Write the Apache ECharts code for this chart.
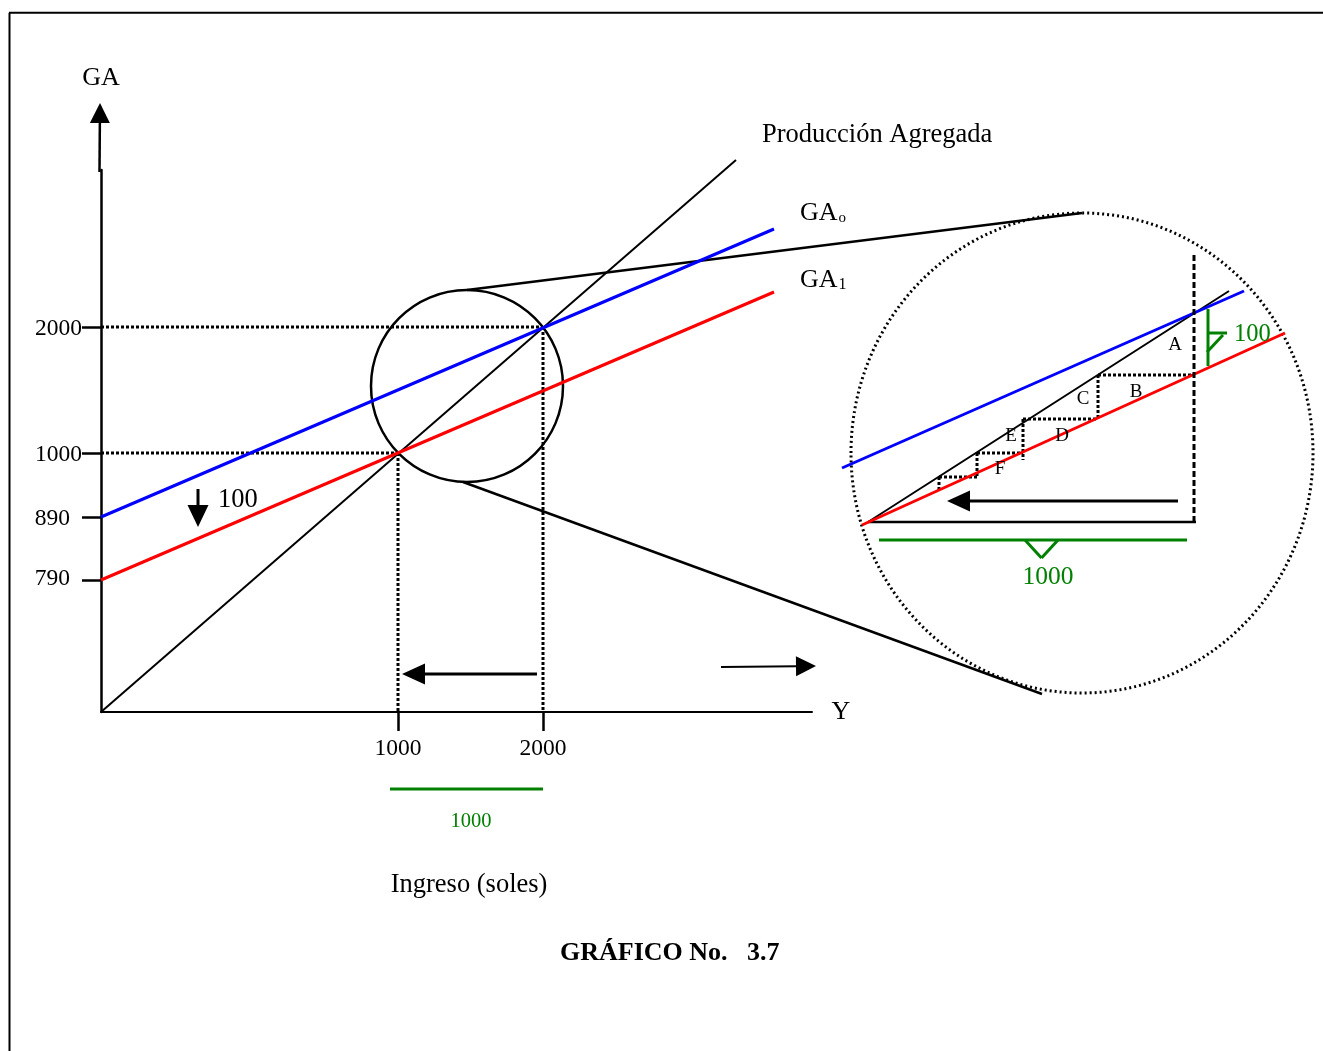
<!DOCTYPE html>
<html>
<head>
<meta charset="utf-8">
<script src="https://cdn.jsdelivr.net/npm/echarts@6/dist/echarts.min.js"></script>
<style>
  html, body { margin: 0; padding: 0; background: #fff; }
  #chart { width: 1323px; height: 1051px; }
</style>
</head>
<body>
<div id="chart"></div>
<script>
// Diagram units: the origin sits at the corner of the GA / Y axes.
// The axes are schematic, so each tick has its own position on the drawing.
const incomeTickPos = [297, 442];
const incomeTickLabels = ['1000', '2000'];
const spendTickPos = [385, 259, 195, 132];
const spendTickLabels = ['2000', '1000', '890', '790'];

// Aggregate production (45° line) and the two aggregate-spending lines
const produccionAgregada = [[0, 0], [635, 552]];
const ga0 = [[0, 195], [673, 483]];
const ga1 = [[0, 132], [673, 420]];

// Magnified view of the region between the two equilibria
const zoomProduccion = [[767, 190], [1128, 421]];
const zoomGa0 = [[741, 244], [1143, 421]];
const zoomGa1 = [[761, 187], [1184, 379]];

// Dotted guides from the equilibria to the axes
const guideLines = [
  [0, 385, 442, 385], [0, 259, 297, 259],
  [297, 259, 297, 0], [442, 385, 442, 0]
];
// Multiplier staircase between production and GA1 in the magnified view
const stepLines = [
  [997, 337, 1093, 337], [997, 337, 997, 293],
  [922, 293, 997, 293], [922, 293, 922, 252],
  [876, 259, 922, 259], [876, 259, 876, 235],
  [838, 235, 876, 235], [838, 235, 838, 220]
];
const zoomBase = [[767, 190, 1095, 190]];
const zoomDrop = [[1093, 457, 1093, 190]];
const connectors = [[366, 422, 981, 499], [362, 230, 941, 18]];
const frameLines = [[-92, 699.3, 1222, 699.3], [-91.5, 699.3, -91.5, -339]];
const greenMarks = [
  [289, -77, 442, -77],
  [778, 172, 1086, 172], [924, 172, 940.5, 154], [940.5, 154, 957, 172],
  [1107, 403, 1107, 346], [1107, 379, 1126, 379], [1106, 360, 1122, 377]
];

// Circles: centre x, centre y, radius x, radius y
const lens = [[366, 326, 96, 96]];
const zoomRing = [[981, 259, 231, 240]];

// Arrows: from (x, y) to tip (x, y)
const arrowPaths = [
  [-1.5, 540, -1, 609],
  [97, 223, 97, 185],
  [436, 38, 301, 38],
  [620, 45, 715, 46],
  [1077, 211, 846, 211]
];
const arrowLooks = [
  { head: 20, width: 20, shaft: 2.5 },
  { head: 22, width: 21, shaft: 3 },
  { head: 23, width: 21, shaft: 3 },
  { head: 20, width: 20, shaft: 2 },
  { head: 23, width: 21, shaft: 3 }
];

// Text placed on the drawing
const notes = [
  { at: [0, 634], text: 'GA', size: 26, align: 'center' },
  { at: [661, 577], text: 'Producción Agregada', size: 26.5, align: 'left' },
  { at: [699, 499], text: 'GA{o|o}', size: 26, align: 'left' },
  { at: [699, 432], text: 'GA{one|1}', size: 26, align: 'left' },
  { at: [740, 0], text: 'Y', size: 26, align: 'center' },
  { at: [117, 212], text: '100', size: 26.5, align: 'left' },
  { at: [370, -110], text: '1000', size: 20.5, align: 'center', color: '#008000' },
  { at: [289.7, -173], text: 'Ingreso (soles)', size: 26.5, align: 'left' },
  { at: [459, -241], text: 'GRÁFICO No.   3.7', size: 26, align: 'left', bold: true },
  { at: [1074, 367], text: 'A', size: 19, align: 'center' },
  { at: [1035, 320], text: 'B', size: 19, align: 'center' },
  { at: [982, 313], text: 'C', size: 19, align: 'center' },
  { at: [961, 276], text: 'D', size: 19, align: 'center' },
  { at: [910, 276], text: 'E', size: 19, align: 'center' },
  { at: [899, 243], text: 'F', size: 19, align: 'center' },
  { at: [947, 135], text: '1000', size: 25.5, align: 'center', color: '#008000' },
  { at: [1133, 377], text: '100', size: 24.5, align: 'left', color: '#008000' }
];

const SERIF = '"Liberation Serif", "Times New Roman", serif';
const BLACK = '#000000';
const GREEN = '#008000';

function segmentSeries(segs, stroke, width, dash, z) {
  return {
    type: 'custom', coordinateSystem: 'cartesian2d', xAxisIndex: 0, yAxisIndex: 0,
    silent: true, z: z, data: segs,
    renderItem(params, api) {
      const a = api.coord([api.value(0), api.value(1)]);
      const b = api.coord([api.value(2), api.value(3)]);
      return {
        type: 'line',
        shape: { x1: a[0], y1: a[1], x2: b[0], y2: b[1] },
        style: { stroke: stroke, lineWidth: width, lineDash: dash || null, fill: null }
      };
    }
  };
}

function curve(pts, color, width, z) {
  return {
    type: 'line', xAxisIndex: 0, yAxisIndex: 0, data: pts,
    symbol: 'none', showSymbol: false, silent: true, z: z,
    lineStyle: { color: color, width: width }
  };
}

function ringSeries(rings, width, dash, z) {
  return {
    type: 'custom', coordinateSystem: 'cartesian2d', xAxisIndex: 0, yAxisIndex: 0,
    silent: true, z: z, data: rings,
    renderItem(params, api) {
      const c = api.coord([api.value(0), api.value(1)]);
      const s = api.size([api.value(2), api.value(3)]);
      return {
        type: 'ellipse',
        shape: { cx: c[0], cy: c[1], rx: s[0], ry: s[1] },
        style: { fill: null, stroke: BLACK, lineWidth: width, lineDash: dash || null }
      };
    }
  };
}

const arrowSeries = {
  type: 'custom', coordinateSystem: 'cartesian2d', xAxisIndex: 0, yAxisIndex: 0,
  silent: true, z: 6, data: arrowPaths,
  renderItem(params, api) {
    const look = arrowLooks[params.dataIndex];
    const p0 = api.coord([api.value(0), api.value(1)]);
    const p1 = api.coord([api.value(2), api.value(3)]);
    const dx = p1[0] - p0[0], dy = p1[1] - p0[1];
    const len = Math.hypot(dx, dy);
    const ux = dx / len, uy = dy / len;
    const nx = -uy, ny = ux;
    const bx = p1[0] - ux * look.head, by = p1[1] - uy * look.head;
    const hw = look.width / 2;
    return {
      type: 'group',
      children: [
        { type: 'line', shape: { x1: p0[0], y1: p0[1], x2: bx + ux, y2: by + uy },
          style: { stroke: BLACK, lineWidth: look.shaft } },
        { type: 'polygon',
          shape: { points: [[p1[0], p1[1]], [bx + nx * hw, by + ny * hw], [bx - nx * hw, by - ny * hw]] },
          style: { fill: BLACK } }
      ]
    };
  }
};

const noteSeries = {
  type: 'custom', coordinateSystem: 'cartesian2d', xAxisIndex: 0, yAxisIndex: 0,
  silent: true, z: 8, data: notes.map(n => n.at),
  renderItem(params, api) {
    const n = notes[params.dataIndex];
    const p = api.coord([api.value(0), api.value(1)]);
    return {
      type: 'text', x: p[0], y: p[1],
      style: {
        text: n.text,
        fill: n.color || BLACK,
        fontFamily: SERIF,
        fontSize: n.size,
        fontWeight: n.bold ? 'bold' : 'normal',
        align: n.align,
        verticalAlign: 'middle',
        rich: {
          o: { fontFamily: SERIF, fontSize: 15, fill: BLACK, verticalAlign: 'bottom', padding: [0, 0, 0, 1] },
          one: { fontFamily: SERIF, fontSize: 16, fill: BLACK, verticalAlign: 'bottom', padding: [0, 0, 0, 1] }
        }
      }
    };
  }
};

const chart = echarts.init(document.getElementById('chart'), null, { renderer: 'canvas' });

chart.setOption({
  animation: false,
  backgroundColor: '#ffffff',
  grid: [
    { left: 0, top: 0, width: 1323, height: 1051 },
    { left: 101, top: 170, width: 711, height: 542 }
  ],
  xAxis: [
    { gridIndex: 0, type: 'value', min: -101, max: 1222, show: false },
    {
      gridIndex: 1, type: 'value', min: 0, max: 711,
      axisLine: { show: true, onZero: false, lineStyle: { color: BLACK, width: 2 } },
      axisTick: { show: true, customValues: incomeTickPos, length: 19, lineStyle: { color: BLACK, width: 2.5 } },
      axisLabel: {
        show: true, customValues: incomeTickPos, margin: 24.5,
        color: BLACK, fontFamily: SERIF, fontSize: 23.5,
        formatter: v => incomeTickLabels[incomeTickPos.indexOf(v)]
      },
      splitLine: { show: false }
    }
  ],
  yAxis: [
    { gridIndex: 0, type: 'value', min: -339, max: 712, show: false },
    {
      gridIndex: 1, type: 'value', min: 0, max: 542,
      axisLine: { show: true, onZero: false, lineStyle: { color: BLACK, width: 2.5 } },
      axisTick: { show: true, customValues: spendTickPos, length: 19, lineStyle: { color: BLACK, width: 2.5 } },
      axisLabel: {
        show: true, customValues: spendTickPos, margin: 19,
        color: BLACK, fontFamily: SERIF, fontSize: 23.5,
        formatter: v => {
          const t = spendTickLabels[spendTickPos.indexOf(v)];
          if (t === '890') return '{mid|' + t + '}';
          if (t === '790') return '{low|' + t + '}';
          return '{near|' + t + '}';
        },
        rich: {
          near: { fontFamily: SERIF, fontSize: 23.5, color: BLACK, padding: [4, 0, 0, 0] },
          mid: { fontFamily: SERIF, fontSize: 23.5, color: BLACK, padding: [4, 12, 0, 0] },
          low: { fontFamily: SERIF, fontSize: 23.5, color: BLACK, padding: [4, 12, 6, 0] }
        }
      },
      splitLine: { show: false }
    }
  ],
  series: [
    segmentSeries(frameLines, BLACK, 2, null, 1),
    segmentSeries(guideLines, BLACK, 3, [3, 2], 2),
    ringSeries(lens, 2.5, null, 3),
    segmentSeries(connectors, BLACK, 2.5, null, 3),
    ringSeries(zoomRing, 3, [2, 3], 3),
    curve(produccionAgregada, BLACK, 2, 4),
    curve(ga0, '#0000ff', 3, 4),
    curve(ga1, '#ff0000', 3, 4),
    segmentSeries(stepLines, BLACK, 3, [3, 2], 4),
    segmentSeries(zoomBase, BLACK, 2.5, null, 4),
    segmentSeries(zoomDrop, BLACK, 3, [6, 3], 5),
    curve(zoomProduccion, BLACK, 2, 4),
    curve(zoomGa0, '#0000ff', 3, 4),
    curve(zoomGa1, '#ff0000', 3, 4),
    segmentSeries(greenMarks, GREEN, 3, null, 5),
    arrowSeries,
    noteSeries
  ]
});
</script>
</body>
</html>
